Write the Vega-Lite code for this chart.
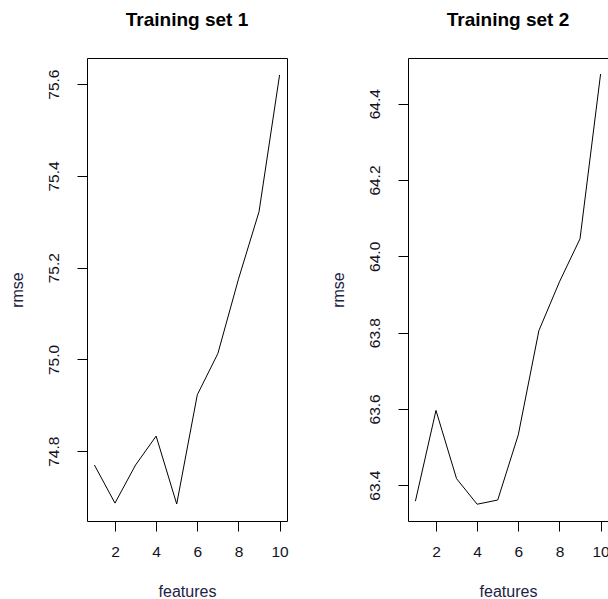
{
  "$schema": "https://vega.github.io/schema/vega-lite/v6.json",
  "background": "white",
  "padding": {"left": 8, "top": 10, "right": 0, "bottom": 0},
  "bounds": "flush",
  "spacing": 121,
  "datasets": {
    "set1": [
      {"features": 1, "rmse": 74.770},
      {"features": 2, "rmse": 74.687},
      {"features": 3, "rmse": 74.770},
      {"features": 4, "rmse": 74.833},
      {"features": 5, "rmse": 74.685},
      {"features": 6, "rmse": 74.923},
      {"features": 7, "rmse": 75.013},
      {"features": 8, "rmse": 75.175},
      {"features": 9, "rmse": 75.322},
      {"features": 10, "rmse": 75.620}
    ],
    "set2": [
      {"features": 1, "rmse": 63.358},
      {"features": 2, "rmse": 63.596},
      {"features": 3, "rmse": 63.417},
      {"features": 4, "rmse": 63.350},
      {"features": 5, "rmse": 63.361},
      {"features": 6, "rmse": 63.532},
      {"features": 7, "rmse": 63.805},
      {"features": 8, "rmse": 63.933},
      {"features": 9, "rmse": 64.046},
      {"features": 10, "rmse": 64.478}
    ]
  },
  "config": {
    "font": "Liberation Sans",
    "view": {"stroke": "black", "strokeWidth": 1},
    "axis": {
      "grid": false,
      "domain": false,
      "tickColor": "black",
      "tickSize": 10,
      "labelFont": "Liberation Sans",
      "labelFontSize": 15.5,
      "labelColor": "#111122",
      "titleFont": "Liberation Sans",
      "titleFontSize": 16,
      "titleFontWeight": "normal",
      "titleColor": "#222244"
    },
    "title": {"font": "Liberation Sans", "fontSize": 19, "fontWeight": "bold", "color": "black", "anchor": "middle"}
  },
  "hconcat": [
    {
      "title": {"text": "Training set 1", "offset": 28},
      "width": 200,
      "height": 463,
      "data": {"name": "set1"},
      "mark": {"type": "line", "color": "black", "strokeWidth": 1},
      "encoding": {
        "x": {"field": "features", "type": "quantitative",
              "scale": {"domain": [0.64, 10.36], "nice": false, "zero": false},
              "axis": {"values": [2, 4, 6, 8, 10], "title": "features", "labelPadding": 13, "titlePadding": 24}},
        "y": {"field": "rmse", "type": "quantitative",
              "scale": {"domain": [74.648, 75.657], "nice": false, "zero": false},
              "axis": {"values": [74.8, 75.0, 75.2, 75.4, 75.6], "format": ".1f", "title": "rmse",
                       "labelAngle": -90, "labelAlign": "center", "labelBaseline": "bottom", "labelPadding": 16, "titlePadding": 21}}
      }
    },
    {
      "title": {"text": "Training set 2", "offset": 28},
      "width": 200,
      "height": 463,
      "data": {"name": "set2"},
      "mark": {"type": "line", "color": "black", "strokeWidth": 1},
      "encoding": {
        "x": {"field": "features", "type": "quantitative",
              "scale": {"domain": [0.64, 10.36], "nice": false, "zero": false},
              "axis": {"values": [2, 4, 6, 8, 10], "title": "features", "labelPadding": 13, "titlePadding": 24}},
        "y": {"field": "rmse", "type": "quantitative",
              "scale": {"domain": [63.306, 64.52], "nice": false, "zero": false},
              "axis": {"values": [63.4, 63.6, 63.8, 64.0, 64.2, 64.4], "format": ".1f", "title": "rmse",
                       "labelAngle": -90, "labelAlign": "center", "labelBaseline": "bottom", "labelPadding": 16, "titlePadding": 21}}
      }
    }
  ]
}
